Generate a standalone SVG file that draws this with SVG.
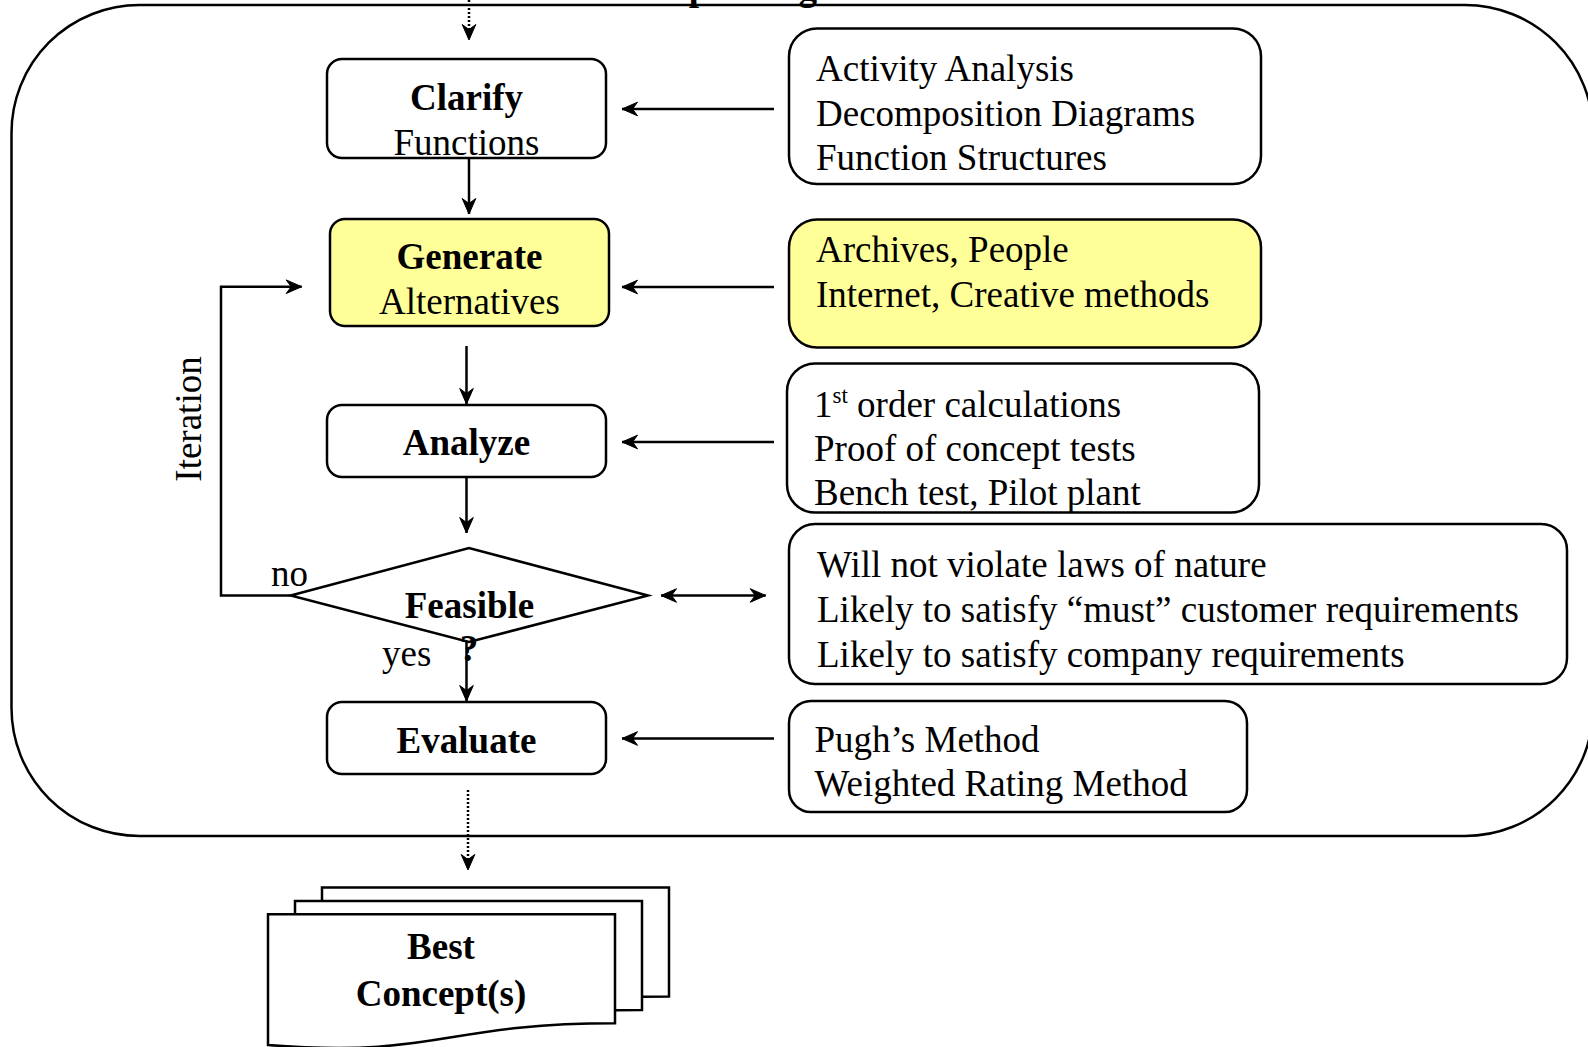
<svg xmlns="http://www.w3.org/2000/svg" width="1588" height="1047" viewBox="0 0 1588 1047">
<defs>
<style>
text{font-family:"Liberation Serif","Times New Roman",serif;font-size:37px;fill:#000}
.b{font-weight:bold}
.box{fill:#fff;stroke:#000;stroke-width:2.5}
.yel{fill:#FFFF99}
.ln{fill:none;stroke:#000;stroke-width:2.5}
.dot{fill:none;stroke:#000;stroke-width:2.5;stroke-dasharray:2 2}
</style>
<marker id="ah" viewBox="-18 -9 19 18" markerWidth="19" markerHeight="18" refX="0" refY="0" orient="auto-start-reverse" markerUnits="userSpaceOnUse">
<path d="M0,0 L-15.5,-6.8 L-10.5,0 L-15.5,6.8 Z" fill="#000" stroke="#000" stroke-width="1" stroke-linejoin="miter"/>
</marker>
</defs>
<rect width="1588" height="1047" fill="#fff"/>

<g id="frame">
<text class="b" x="590" y="0">Concept Design</text>
<rect x="11.5" y="5" width="1581.5" height="831" rx="128" ry="128" fill="none" stroke="#000" stroke-width="2.5"/>
</g>

<g id="clarify">
<rect class="box" x="327" y="59" width="279" height="99" rx="15"/>
<text class="b" x="466.5" y="109.5" text-anchor="middle">Clarify</text>
<text x="466.5" y="154.5" text-anchor="middle">Functions</text>
</g>

<g id="generate">
<rect class="box yel" x="330" y="219" width="279" height="107" rx="15"/>
<text class="b" x="469.5" y="269" text-anchor="middle">Generate</text>
<text x="469.5" y="314" text-anchor="middle">Alternatives</text>
</g>

<g id="analyze">
<rect class="box" x="327" y="405" width="279" height="72" rx="15"/>
<text class="b" x="466.5" y="454.5" text-anchor="middle">Analyze</text>
</g>

<g id="feasible">
<polygon class="box" points="290.7,595.5 469,548 648,595.5 469,642"/>
<text class="b" x="469.5" y="617.5" text-anchor="middle">Feasible</text>
<text class="b" x="469" y="661" text-anchor="middle">?</text>
</g>

<g id="evaluate">
<rect class="box" x="327" y="702" width="279" height="72" rx="15"/>
<text class="b" x="466.5" y="752.5" text-anchor="middle">Evaluate</text>
</g>

<g id="best-concepts">
<path class="box" d="M322,887.5 H669 V996.5 C495,996.5 495,1030 322,1017 Z"/>
<path class="box" d="M295,901 H642 V1010 C468,1010 468,1044 295,1031 Z"/>
<path class="box" d="M268,914.3 H615 V1023.3 C441,1023.3 441,1058 268,1045 Z"/>
<text class="b" x="441" y="959" text-anchor="middle">Best</text>
<text class="b" x="441" y="1006" text-anchor="middle">Concept(s)</text>
</g>

<g id="clarify-tools">
<rect class="box" x="789" y="28.5" width="472" height="155.5" rx="28"/>
<text x="816" y="81">Activity Analysis</text>
<text x="816" y="125.5">Decomposition Diagrams</text>
<text x="816" y="170">Function Structures</text>
</g>

<g id="generate-tools">
<rect class="box yel" x="789" y="219.5" width="472" height="128" rx="28"/>
<text x="816" y="262">Archives, People</text>
<text x="816" y="306.5">Internet, Creative methods</text>
</g>

<g id="analyze-tools">
<rect class="box" x="787" y="363.5" width="472" height="149" rx="28"/>
<text x="814" y="416.5">1<tspan font-size="23" dy="-14">st</tspan><tspan dy="14"> order calculations</tspan></text>
<text x="814" y="461">Proof of concept tests</text>
<text x="814" y="505">Bench test, Pilot plant</text>
</g>

<g id="feasible-criteria">
<rect class="box" x="789" y="524" width="778" height="160" rx="26"/>
<text x="817" y="576.5">Will not violate laws of nature</text>
<text x="817" y="621.5">Likely to satisfy “must” customer requirements</text>
<text x="817" y="666.5">Likely to satisfy company requirements</text>
</g>

<g id="evaluate-tools">
<rect class="box" x="789" y="701" width="458" height="111" rx="22"/>
<text x="814.5" y="751.5">Pugh’s Method</text>
<text x="814.5" y="795.5">Weighted Rating Method</text>
</g>

<g id="labels">
<text x="271" y="585.5">no</text>
<text x="382" y="666">yes</text>
<text transform="translate(201,419) rotate(-90)" text-anchor="middle">Iteration</text>
</g>

<g id="connectors">
<path class="dot" d="M469,0 V40" marker-end="url(#ah)"/>
<path class="ln" d="M469,158 V214" marker-end="url(#ah)"/>
<path class="ln" d="M466.5,346 V404" marker-end="url(#ah)"/>
<path class="ln" d="M466.5,477 V533" marker-end="url(#ah)"/>
<path class="ln" d="M466.5,642 V701" marker-end="url(#ah)"/>
<path class="dot" d="M468,790 V870" marker-end="url(#ah)"/>
<path class="ln" d="M290.7,595.5 H221 V286.7 H301.7" marker-end="url(#ah)"/>
<path class="ln" d="M774,109 H622" marker-end="url(#ah)"/>
<path class="ln" d="M774,287 H622" marker-end="url(#ah)"/>
<path class="ln" d="M774,442 H622" marker-end="url(#ah)"/>
<path class="ln" d="M774,738.5 H622" marker-end="url(#ah)"/>
<path class="ln" d="M661,595.5 H765.7" marker-start="url(#ah)" marker-end="url(#ah)"/>
</g>
</svg>
